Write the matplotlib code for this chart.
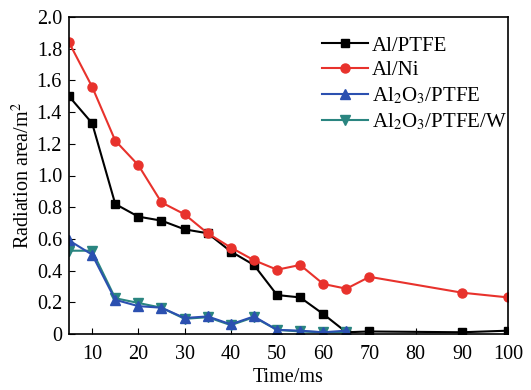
import matplotlib
matplotlib.use('Agg')
import matplotlib.pyplot as plt

# time (ms) and radiation area (m^2)
t_al_ptfe = [5, 10, 15, 20, 25, 30, 35, 40, 45, 50, 55, 60, 65, 70, 90, 100]
al_ptfe = [1.50, 1.33, 0.82, 0.74, 0.715, 0.66, 0.635, 0.52, 0.435, 0.245,
           0.23, 0.125, 0.01, 0.015, 0.01, 0.02]

t_al_ni = [5, 10, 15, 20, 25, 30, 35, 40, 45, 50, 55, 60, 65, 70, 90, 100]
al_ni = [1.84, 1.56, 1.22, 1.065, 0.83, 0.755, 0.635, 0.545, 0.465, 0.405,
         0.435, 0.315, 0.285, 0.36, 0.26, 0.23]

t_al2o3 = [5, 10, 15, 20, 25, 30, 35, 40, 45, 50, 55, 60, 65]
al2o3_ptfe = [0.59, 0.50, 0.215, 0.175, 0.165, 0.10, 0.11, 0.06, 0.11,
              0.025, 0.02, 0.01, 0.02]
al2o3_ptfe_w = [0.525, 0.525, 0.225, 0.195, 0.165, 0.095, 0.105, 0.055,
                0.105, 0.025, 0.015, 0.01, 0.01]

plt.rcParams['font.family'] = 'Liberation Serif'
plt.rcParams['mathtext.fontset'] = 'stix'

fig = plt.figure(figsize=(5.31, 3.9), dpi=100)
ax = fig.add_axes([0.130, 0.144, 0.827, 0.812])

ax.plot(t_al_ptfe, al_ptfe, '-s', color='black', lw=1.5, ms=6,
        label='Al/PTFE')
ax.plot(t_al_ni, al_ni, '-o', color='#e8322c', lw=1.5, ms=6.5,
        label='Al/Ni')
ax.plot(t_al2o3, al2o3_ptfe_w, '-v', color='#2a8580', lw=1.5, ms=6.5,
        label='Al$_2$O$_3$/PTFE/W')
ax.plot(t_al2o3, al2o3_ptfe, '-^', color='#2b50b0', lw=1.5, ms=6.5,
        label='Al$_2$O$_3$/PTFE')

ax.set_xlim(5, 100)
ax.set_ylim(0, 2.0)
ax.set_xticks(range(10, 101, 10))
ax.set_yticks([0, 0.2, 0.4, 0.6, 0.8, 1.0, 1.2, 1.4, 1.6, 1.8, 2.0])
ax.set_yticklabels(['0', '0.2', '0.4', '0.6', '0.8', '1.0', '1.2', '1.4',
                    '1.6', '1.8', '2.0'])
ax.tick_params(direction='in', labelsize=14.5, length=4)
ax.tick_params(axis='x', pad=8)
ax.tick_params(axis='y', pad=5)
for s in ax.spines.values():
    s.set_linewidth(1.2)

ax.set_xlabel('Time/ms', fontsize=14.5, labelpad=3)
ax.set_ylabel('Radiation area/m$^2$', fontsize=14.5, labelpad=2)

h, l = ax.get_legend_handles_labels()
order = [0, 1, 3, 2]
ax.legend([h[i] for i in order], [l[i] for i in order], loc='upper right',
          bbox_to_anchor=(1.025, 0.98),
          frameon=False, fontsize=15, handlelength=2.2, handletextpad=0.2,
          labelspacing=0.25, borderaxespad=0.2)

fig.savefig('out.png', dpi=100)
